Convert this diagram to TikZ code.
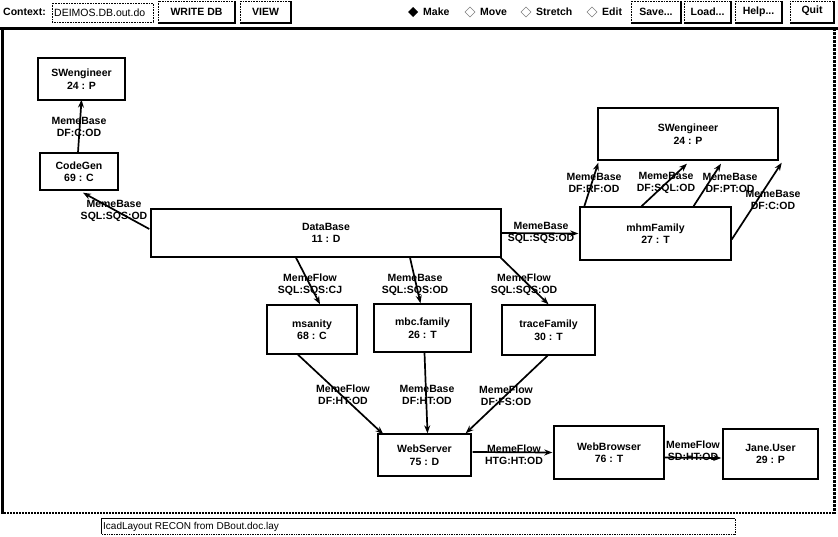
\documentclass[tikz,border=0pt]{standalone}
\usepackage{fontspec}
\setmainfont{Liberation Sans}
\usetikzlibrary{calc,arrows.meta,shapes.geometric}
\begin{document}
\begin{tikzpicture}[x=1pt,y=-1pt,
  every node/.style={font=\fontsize{10.5}{12.5}\selectfont\bfseries, inner sep=0pt},
  obj/.style={draw, line width=1.4pt, align=center, fill=white},
  flow/.style={line width=1.7pt, -{Stealth[length=8pt,width=6pt]}},
  elab/.style={align=center, font=\fontsize{10.5}{12}\selectfont\bfseries},
  btn/.style={draw, densely dotted, line width=0.6pt},
  tbtext/.style={font=\fontsize{10.5}{12}\selectfont\bfseries}]
\useasboundingbox (0,0) rectangle (838,536);
\fill[white] (0,0) rectangle (838,536);

% ---------- toolbar ----------
\node[tbtext, anchor=west] (ctx) at (3,12) {Context:};
\draw[btn] (52,3) rectangle (153,22);
\node[anchor=west, font=\fontsize{10.5}{12}\selectfont] (ctxval) at (54,12.5) {DEIMOS.DB.out.do};

\draw[btn] (158,1) rectangle (235,23);
\draw[line width=1.5pt] (158,23) -- (235,23) -- (235,1);
\node[tbtext] (bwrite) at (196.5,12) {WRITE DB};
\draw[btn] (240,1) rectangle (291,23);
\draw[line width=1.5pt] (240,23) -- (291,23) -- (291,1);
\node[tbtext] (bview) at (265.5,12) {VIEW};

\fill (408,12) -- (413,7) -- (418,12) -- (413,17) -- cycle;
\node[tbtext, anchor=west] (rmake) at (423,12) {Make};
\draw[gray, line width=0.6pt] (465,12) -- (470,7) -- (475,12) -- (470,17) -- cycle;
\node[tbtext, anchor=west] (rmove) at (480,12) {Move};
\draw[gray, line width=0.6pt] (521,12) -- (526,7) -- (531,12) -- (526,17) -- cycle;
\node[tbtext, anchor=west] (rstretch) at (536,12) {Stretch};
\draw[gray, line width=0.6pt] (587,12) -- (592,7) -- (597,12) -- (592,17) -- cycle;
\node[tbtext, anchor=west] (redit) at (602,12) {Edit};

\draw[btn] (631,1) rectangle (681,23);
\draw[line width=1.5pt] (631,23) -- (681,23) -- (681,1);
\node[tbtext] (bsave) at (656,12) {Save...};
\draw[btn] (684,1) rectangle (731,23);
\draw[line width=1.5pt] (684,23) -- (731,23) -- (731,1);
\node[tbtext] (bload) at (707.5,12) {Load...};
\draw[btn] (735,1) rectangle (782,23);
\draw[line width=1.5pt] (735,23) -- (782,23) -- (782,1);
\node[tbtext] (bhelp) at (758.5,12) {Help...};
\draw[btn] (790,1) rectangle (834,23);
\draw[line width=1.5pt] (790,23) -- (834,23) -- (834,1);
\node[tbtext] (bquit) at (812,11) {Quit};

% ---------- canvas frame ----------
\draw[line width=3pt] (0,28) -- (838,28);
\draw[line width=3pt] (2.5,28) -- (2.5,514);
\draw[line width=3pt, densely dotted] (834.5,28) -- (834.5,514);
\draw[line width=2pt, densely dotted] (1,513) -- (836,513);

% ---------- status bar ----------
\draw[densely dotted, line width=0.7pt] (101,518) rectangle (735,534);
\draw[line width=1.6pt] (101,518.5) -- (735,518.5);
\draw[line width=0.7pt] (101.5,518) -- (101.5,534);
\node[anchor=west, font=\fontsize{10}{12}\selectfont] (status) at (103,526.5) {IcadLayout RECON from DBout.doc.lay};

% ---------- nodes ----------
\node[obj, minimum width=87pt, minimum height=42pt] (sw1) at (81.5,79) {SWengineer\\24 : P};
\node[obj, minimum width=78pt, minimum height=37pt] (cg) at (79,171.5) {CodeGen\\69 : C};
\node[obj, minimum width=350pt, minimum height=48pt] (db) at (326,233) {DataBase\\11 : D};
\node[obj, minimum width=180pt, minimum height=52pt] (sw2) at (688,134) {SWengineer\\24 : P};
\node[obj, minimum width=151pt, minimum height=53pt] (mhm) at (655.5,233.5) {mhmFamily\\27 : T};
\node[obj, minimum width=90pt, minimum height=49pt] (ms) at (312,329.5) {msanity\\68 : C};
\node[obj, minimum width=97pt, minimum height=48pt] (mbc) at (422.5,328) {mbc.family\\26 : T};
\node[obj, minimum width=93pt, minimum height=50pt] (tf) at (548.5,330) {traceFamily\\30 : T};
\node[obj, minimum width=93pt, minimum height=42pt] (ws) at (424.5,455) {WebServer\\75 : D};
\node[obj, minimum width=110pt, minimum height=53pt] (wb) at (609,452.5) {WebBrowser\\76 : T};
\node[obj, minimum width=95pt, minimum height=50pt] (ju) at (770.5,454) {Jane.User\\29 : P};

% ---------- connectors ----------
\draw[flow] ($(cg.north)+(-1,0)$) -- ($(sw1.south)+(0,-1)$);
\draw[flow] ($(db.west)+(-1,-4)$) -- ($(cg.south)+(4,2)$);
\draw[flow] (db.east) -- ($(mhm.west)+(-1,0)$);
\draw[flow] ($(db.south)+(-30,0)$) -- ($(ms.north)+(8,0)$);
\draw[flow] ($(db.south)+(84,0)$) -- ($(mbc.north)+(-2,0)$);
\draw[flow] ($(db.south east)+(-1,0)$) -- (tf.north);
\draw[flow] ($(mhm.north west)+(5,0)$) -- ($(sw2.south west)+(1,2)$);
\draw[flow] ($(mhm.north)+(-14,0)$) -- ($(sw2.south)+(-1,3)$);
\draw[flow] ($(mhm.north)+(38,0)$) -- ($(sw2.south)+(33,3)$);
\draw[flow] ($(mhm.east)+(0,6)$) -- ($(sw2.south east)+(3,2)$);
\draw[flow] ($(ms.south)+(-14,0)$) -- ($(ws.north west)+(6,1)$);
\draw[flow] ($(mbc.south)+(2,0)$) -- ($(ws.north)+(3,0)$);
\draw[flow] ($(tf.south)+(-1,0)$) -- ($(ws.north east)+(-6,0)$);
\draw[flow] ($(ws.east)+(1,-3)$) -- ($(wb.west)+(-1,0)$);
\draw[flow] ($(wb.east)+(0,5)$) -- ($(ju.west)+(-1,4)$);

% ---------- connector labels ----------
\node[elab] (l1) at (79,127) {MemeBase\\DF:C:OD};
\node[elab] (l2) at (114,211) {MemeBase\\SQL:SQS:OD};
\node[elab] (l3) at (541,233) {MemeBase\\SQL:SQS:OD};
\node[elab] (l4) at (310,285) {MemeFlow\\SQL:SQS:CJ};
\node[elab] (l5) at (415,285) {MemeBase\\SQL:SQS:OD};
\node[elab] (l6) at (524,285) {MemeFlow\\SQL:SQS:OD};
\node[elab] (l7) at (594,183) {MemeBase\\DF:RF:OD};
\node[elab] (l8) at (666,183) {MemeBase\\DF:SQL:OD};
\node[elab] (l9) at (730,183) {MemeBase\\DF:PT:OD};
\node[elab] (l10) at (773,200) {MemeBase\\DF:C:OD};
\node[elab] (l11) at (343,395) {MemeFlow\\DF:HT:OD};
\node[elab] (l12) at (427,395) {MemeBase\\DF:HT:OD};
\node[elab] (l13) at (506,396) {MemeFlow\\DF:FS:OD};
\node[elab] (l14) at (514,455) {MemeFlow\\HTG:HT:OD};
\node[elab] (l15) at (693,451) {MemeFlow\\SD:HT:OD};
\end{tikzpicture}
\end{document}
